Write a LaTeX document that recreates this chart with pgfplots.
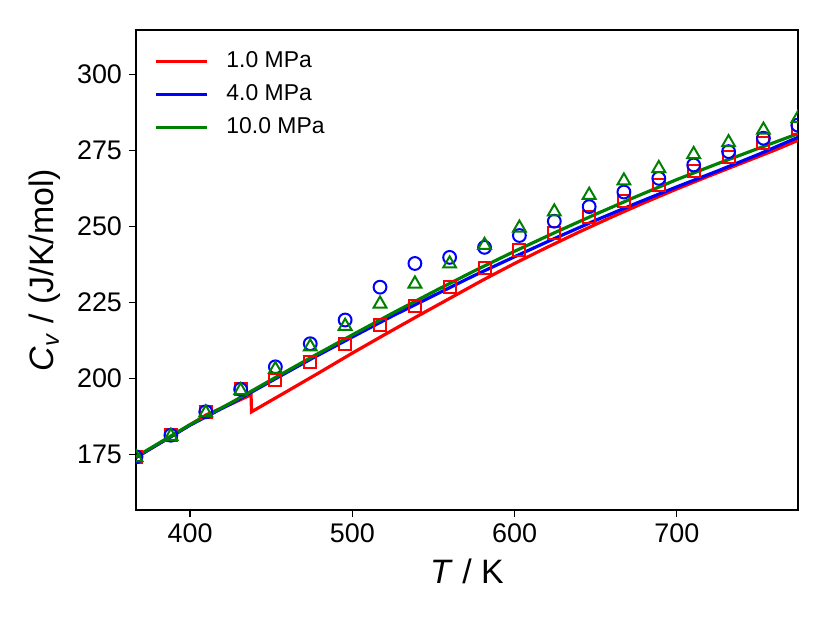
\documentclass[border=0pt]{standalone}
\usepackage{fontspec}
\setmainfont{Liberation Sans}
\usepackage{pgfplots}
\pgfplotsset{compat=1.18}
\definecolor{mplred}{RGB}{255,0,0}
\definecolor{mplblue}{RGB}{0,0,255}
\definecolor{mplgreen}{RGB}{0,128,0}
\begin{document}
\begin{tikzpicture}
\begin{axis}[
  scale only axis,
  width=331bp, height=240bp,
  xmin=366.7, xmax=774.7,
  ymin=156.7, ymax=314.6,
  clip marker paths=true,
  xtick={400,500,600,700},
  ytick={175,200,225,250,275,300},
  tick align=outside,
  major tick length=3.5bp,
  tick style={black, line width=0.7bp},
  axis line style={line width=0.75bp},
  xtick pos=bottom, ytick pos=left,
  /pgf/number format/assume math mode=true,
  ticklabel style={font=\fontsize{13.5}{15}\selectfont},
  xlabel={\textit{T} / K},
  ylabel={\textit{C}\textsubscript{\textit{v}} / (J/K/mol)},
  label style={font=\fontsize{17}{19}\selectfont},
  xlabel style={at={(axis description cs:0.5,-0.154)}, anchor=base},
  ylabel style={at={(axis description cs:-0.1375,0.5)}, anchor=center},
  legend style={draw=none, fill=none, at={(axis description cs:0.018,0.972)}, anchor=north west,
    font=\fontsize{11.5}{13}\selectfont, row sep=3bp},
  legend cell align=left,
  legend image code/.code={\draw[#1] (0bp,0bp) -- (25.5bp,0bp); \path (32.5bp,0bp);},
]
\addplot[mplred, line width=1.6bp, no markers] coordinates {
(366.7,174.0) (390,181.4) (410,188.0) (425,191.5) (437.6,194.6) (437.9,189.0)
(460,195.8) (480,202.0) (500,208.3) (520,214.4) (540,220.4) (560,226.3)
(580,232.2) (600,237.8) (620,243.1) (640,248.2) (660,253.1) (680,257.8)
(700,262.3) (720,266.6) (740,270.8) (760,275.0) (774.7,278.3)};
\addlegendentry{1.0 MPa}
\addplot[mplblue, line width=1.6bp, no markers] coordinates {
(366.7,174.0) (400,184.6) (425,191.6) (450,199.1) (475,206.5) (500,213.6)
(525,220.6) (550,227.2) (575,233.8) (600,240.0) (625,246.1) (650,252.0)
(675,257.6) (700,263.0) (725,268.2) (750,273.6) (774.7,279.3)};
\addlegendentry{4.0 MPa}
\addplot[mplgreen, line width=1.6bp, no markers] coordinates {
(366.7,174.2) (400,184.8) (425,191.9) (450,199.5) (475,207.0) (500,214.3)
(525,221.5) (550,228.5) (575,235.3) (600,241.8) (625,248.0) (650,254.0)
(675,259.8) (700,265.4) (725,270.6) (750,275.6) (774.7,280.5)};
\addlegendentry{10.0 MPa}
\addplot[only marks, mark=square, mark size=3bp, mplred, mark options={line width=1bp}] coordinates {
(366.7,174.2) (388.2,181.3) (409.7,188.8) (431.2,196.5) (452.6,199.4)
(474.1,205.5) (495.6,211.4) (517.1,217.7) (538.6,223.8) (560.0,230.1)
(581.5,236.2) (603.0,242.2) (624.5,247.7) (646.0,253.2) (667.4,258.3)
(688.9,263.5) (710.4,268.3) (731.9,272.9) (753.4,277.5) (774.6,282.2)};
\addplot[only marks, mark=o, mark size=3.2bp, mplblue, mark options={line width=1bp}] coordinates {
(366.7,174.2) (388.2,181.3) (409.7,189.0) (431.2,196.4) (452.6,203.8)
(474.1,211.4) (495.6,219.2) (517.1,230.0) (538.6,237.8) (560.0,239.8)
(581.5,243.1) (603.0,247.0) (624.5,251.7) (646.0,256.5) (667.4,261.3)
(688.9,265.8) (710.4,270.2) (731.9,274.6) (753.4,279.0) (774.6,283.3)};
\addplot[only marks, mark=triangle, mark size=3.7bp, mplgreen, mark options={line width=1bp}] coordinates {
(366.7,174.0) (388.2,181.0) (409.7,188.7) (431.2,196.0) (452.6,203.0)
(474.1,210.4) (495.6,217.2) (517.1,224.5) (538.6,231.1) (560.0,237.7)
(581.5,243.8) (603.0,249.5) (624.5,254.8) (646.0,260.3) (667.4,265.0)
(688.9,269.1) (710.4,273.7) (731.9,277.6) (753.4,281.7) (774.6,285.5)};
\end{axis}
\pgfresetboundingbox
\path[use as bounding box] ([xshift=-68bp,yshift=-56.5bp]current axis.south west) rectangle ([xshift=16bp,yshift=15bp]current axis.north east);
\end{tikzpicture}
\end{document}
